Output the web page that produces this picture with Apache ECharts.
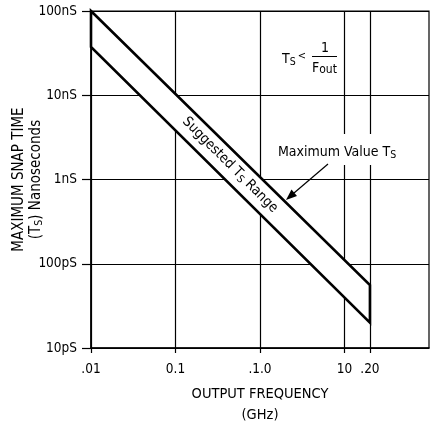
<!DOCTYPE html>
<html>
<head>
<meta charset="utf-8">
<script src="https://cdn.jsdelivr.net/npm/echarts@6/dist/echarts.min.js"></script>
<style>
  html, body { margin: 0; padding: 0; background: #fff; }
  #chart-container { width: 431px; height: 425px; }
</style>
</head>
<body>
<div id="chart-container"></div>
<script>
// output frequency ticks (GHz) and the odd labels printed on the original
const freqTicks = [0.01, 0.1, 1, 10, 20];
const freqTickLabels = [".01", "0.1", ".1.0", "10", ".20"];

// snap time ticks, in ns
const snapTicks = [0.01, 0.1, 1, 10, 100];
const snapTickLabels = ["10pS", "100pS", "1nS", "10nS", "100nS"];

// band edges (ns) at the two ends of the suggested range
const bandFreq = [0.01, 20];
const maxSnap = [100, 0.056];
const minSnap = [37.5, 0.02];

const FONT = "'Liberation Sans Narrow', 'DejaVu Sans Condensed', sans-serif";

function pickLabel(ticks, labels, v) {
  const i = ticks.findIndex((t) => Math.abs(Math.log10(t) - Math.log10(v)) < 1e-6);
  return i >= 0 ? labels[i] : "";
}

var chartDom = document.getElementById("chart-container");
var myChart = echarts.init(chartDom, null, { renderer: "canvas" });

const grid = {
  left: 91,
  right: 2,
  top: 11,
  bottom: 77,
  containLabel: false,
  outerBoundsMode: "none",
  show: true,
  borderColor: "#000",
  borderWidth: 1.2,
};

const band = {
  type: "custom",
  z: 3,
  clip: false,
  silent: true,
  data: bandFreq.map((f, i) => [f, maxSnap[i], minSnap[i]]),
  renderItem: function (params, api) {
    if (params.dataIndex !== 0) return null;
    const points = [];
    for (let i = 0; i < bandFreq.length; i++) {
      points.push(api.coord([bandFreq[i], maxSnap[i]]));
    }
    for (let i = bandFreq.length - 1; i >= 0; i--) {
      points.push(api.coord([bandFreq[i], minSnap[i]]));
    }
    return {
      type: "polygon",
      shape: { points },
      style: {
        fill: "#fff",
        stroke: "#000",
        lineWidth: 2.6,
        lineJoin: "miter",
      },
    };
  },
};

const subStyle = { fontSize: 10.5, lineHeight: 11, padding: [6, 0, 0, 0], fontFamily: FONT, color: "#000" };

const elements = [
  // band caption
  {
    type: "text",
    x: 230,
    y: 165,
    rotation: -Math.PI / 4,
    z: 10,
    style: {
      text: "{m|Suggested T}{s|S}{m| Range}",
      align: "center",
      verticalAlign: "middle",
      rich: {
        m: { fontSize: 14, lineHeight: 17, fontFamily: FONT, color: "#000" },
        s: subStyle,
      },
    },
  },
  // white backing for the "Maximum Value" note
  {
    type: "rect",
    z: 9,
    shape: { x: 276, y: 134, width: 124, height: 31 },
    style: { fill: "#fff" },
  },
  {
    type: "text",
    x: 278,
    y: 152,
    z: 10,
    style: {
      text: "{m|Maximum Value T}{s|S}",
      align: "left",
      verticalAlign: "middle",
      rich: {
        m: { fontSize: 14, lineHeight: 17, fontFamily: FONT, color: "#000" },
        s: subStyle,
      },
    },
  },
  // arrow to the upper edge
  {
    type: "line",
    z: 10,
    shape: { x1: 328, y1: 164, x2: 294, y2: 193 },
    style: { stroke: "#000", lineWidth: 1.2 },
  },
  {
    type: "polygon",
    z: 10,
    shape: { points: [[286, 200], [297, 196], [291.5, 189.5]] },
    style: { fill: "#000" },
  },
  // Ts < 1 / Fout
  {
    type: "text",
    x: 282,
    y: 59,
    z: 10,
    style: {
      text: "{m|T}{s|S}",
      align: "left",
      verticalAlign: "middle",
      rich: {
        m: { fontSize: 14, lineHeight: 17, fontFamily: FONT, color: "#000" },
        s: subStyle,
      },
    },
  },
  {
    type: "text",
    x: 302,
    y: 56,
    z: 10,
    style: { text: "<", fontSize: 11, fontFamily: FONT, fill: "#000", align: "center", verticalAlign: "middle" },
  },
  {
    type: "text",
    x: 325,
    y: 48.5,
    z: 10,
    style: { text: "1", fontSize: 14, fontFamily: FONT, fill: "#000", align: "center", verticalAlign: "middle" },
  },
  {
    type: "line",
    z: 10,
    shape: { x1: 312, y1: 56.5, x2: 337, y2: 56.5 },
    style: { stroke: "#000", lineWidth: 1 },
  },
  {
    type: "text",
    x: 312,
    y: 68,
    z: 10,
    style: {
      text: "{m|F}{s|out}",
      align: "left",
      verticalAlign: "middle",
      rich: {
        m: { fontSize: 14, lineHeight: 17, fontFamily: FONT, color: "#000" },
        s: { fontSize: 12, lineHeight: 13, padding: [4, 0, 0, 0], fontFamily: FONT, color: "#000" },
      },
    },
  },
];

var option = {
  animation: false,
  grid,
  xAxis: {
    type: "log",
    logBase: 10,
    min: 0.01,
    max: 100,
    name: "OUTPUT FREQUENCY\n(GHz)",
    nameLocation: "middle",
    nameGap: 36,
    nameMoveOverlap: false,
    nameTextStyle: { fontSize: 14.5, lineHeight: 21, fontFamily: FONT, color: "#000" },
    axisLine: { show: true, lineStyle: { color: "#000", width: 1.5 } },
    axisTick: { show: true, length: 5, customValues: freqTicks, lineStyle: { color: "#000", width: 1.2 } },
    axisLabel: {
      customValues: freqTicks,
      margin: 14,
      fontSize: 13.5,
      fontFamily: FONT,
      color: "#000",
      formatter: (v) => pickLabel(freqTicks, freqTickLabels, v),
    },
    splitLine: { show: true, lineStyle: { color: "#000", width: 1.2 } },
    minorTick: { show: false },
  },
  yAxis: {
    type: "log",
    logBase: 10,
    min: 0.01,
    max: 100,
    name: "{m|MAXIMUM SNAP TIME}\n{m|(T}{s|S}{m|) Nanoseconds}",
    nameLocation: "middle",
    nameRotate: 90,
    nameGap: 46,
    nameMoveOverlap: false,
    nameTextStyle: {
      fontSize: 15,
      lineHeight: 17.5,
      fontFamily: FONT,
      color: "#000",
      rich: {
        m: { fontSize: 15, lineHeight: 17.5, fontFamily: FONT, color: "#000" },
        s: subStyle,
      },
    },
    axisLine: { show: true, lineStyle: { color: "#000", width: 1.5 } },
    axisTick: { show: true, length: 9, customValues: snapTicks, lineStyle: { color: "#000", width: 1.2 } },
    axisLabel: {
      customValues: snapTicks,
      margin: 14,
      fontSize: 13.5,
      fontFamily: FONT,
      color: "#000",
      formatter: (v) => pickLabel(snapTicks, snapTickLabels, v),
    },
    splitLine: { show: true, lineStyle: { color: "#000", width: 1.2 } },
  },
  series: [band],
  graphic: { elements },
};

myChart.setOption(option);
</script>
</body>
</html>
